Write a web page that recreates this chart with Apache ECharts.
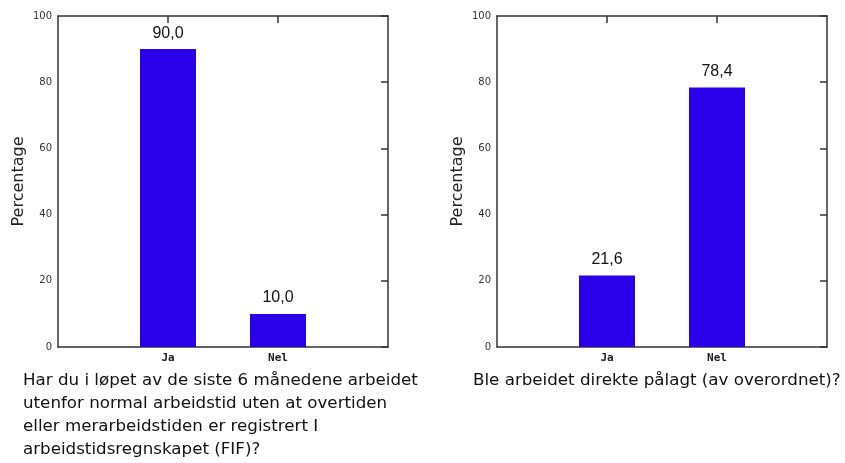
<!DOCTYPE html>
<html>
<head>
<meta charset="utf-8">
<script src="https://cdn.jsdelivr.net/npm/echarts@6/dist/echarts.min.js"></script>
<style>
html,body{margin:0;padding:0;background:#fff;}
#chart{width:845px;height:463px;}
</style>
</head>
<body>
<div id="chart"></div>
<script>
const categories = ['Ja', 'Nel'];
const leftValues = [90.0, 10.0];
const rightValues = [21.6, 78.4];
const yMin = 0, yMax = 100, yStep = 20;
const yAxisName = 'Percentage';
const leftCaption = 'Har du i løpet av de siste 6 månedene arbeidet\nutenfor normal arbeidstid uten at overtiden\neller merarbeidstiden er registrert I\narbeidstidsregnskapet (FIF)?';
const rightCaption = 'Ble arbeidet direkte pålagt (av overordnet)?';

const paddedCats = [''].concat(categories, ['']);
const pad = vals => ['-'].concat(vals, ['-']);
const barColor = '#2a00ea';
const lineStyle = { color: '#333', width: 1.5 };
const fmt = p => (typeof p.value === 'number') ? p.value.toFixed(1).replace('.', ',') : '';
const captionStyle = { fontSize: 16.7, fontWeight: 'normal', color: '#111', lineHeight: 23, fontFamily: 'DejaVu Sans, Verdana, sans-serif' };

const grids = [
  { left: 58, right: 457, top: 16, bottom: 116 },
  { left: 497, right: 18, top: 16, bottom: 116 }
];

const xAxes = [], yAxes = [], series = [];
[leftValues, rightValues].forEach((vals, g) => {
  xAxes.push({
    type: 'category', gridIndex: g, data: paddedCats, boundaryGap: false, position: 'bottom',
    axisLine: { show: true, onZero: false, lineStyle }, axisTick: { show: false },
    axisLabel: { show: true, fontSize: 11, fontWeight: 'bold', color: '#222', margin: 6, fontFamily: 'DejaVu Sans Mono, monospace',
      interval: 0 },
    splitLine: { show: false }
  });
  xAxes.push({
    type: 'category', gridIndex: g, data: paddedCats, boundaryGap: false, position: 'top',
    axisLine: { show: true, onZero: false, lineStyle },
    axisTick: { show: true, inside: true, length: 7, lineStyle, interval: (i) => i === 1 || i === 2 },
    axisLabel: { show: false }, splitLine: { show: false }
  });
  yAxes.push({
    type: 'value', gridIndex: g, min: yMin, max: yMax, interval: yStep, position: 'left',
    name: yAxisName, nameLocation: 'middle', nameGap: 31,
    nameTextStyle: { fontSize: 16, color: '#222', fontFamily: 'DejaVu Sans, Verdana, sans-serif' },
    axisLine: { show: true, onZero: false, lineStyle }, axisTick: { show: false },
    axisLabel: { fontSize: 10, color: '#333', margin: 6, fontFamily: 'DejaVu Sans, Verdana, sans-serif' },
    splitLine: { show: false }
  });
  yAxes.push({
    type: 'value', gridIndex: g, min: yMin, max: yMax, interval: yStep, position: 'right',
    axisLine: { show: true, onZero: false, lineStyle },
    axisTick: { show: true, inside: true, length: 7, lineStyle },
    axisLabel: { show: false }, splitLine: { show: false }
  });
  series.push({
    type: 'bar', xAxisIndex: g * 2, yAxisIndex: g * 2, data: pad(vals), barWidth: 56,
    itemStyle: { color: barColor },
    label: { show: true, position: 'top', distance: 8, formatter: fmt, fontSize: 16, color: '#111',
      fontFamily: 'Liberation Sans, Arial, sans-serif' },
    animation: false
  });
});

const chart = echarts.init(document.getElementById('chart'));
chart.setOption({
  animation: false,
  backgroundColor: '#fff',
  grid: grids,
  xAxis: xAxes,
  yAxis: yAxes,
  series: series,
  title: [
    { text: leftCaption, left: 23, top: 369, textStyle: captionStyle, padding: 0 },
    { text: rightCaption, left: 473, top: 369, textStyle: captionStyle, padding: 0 }
  ]
});
</script>
</body>
</html>
